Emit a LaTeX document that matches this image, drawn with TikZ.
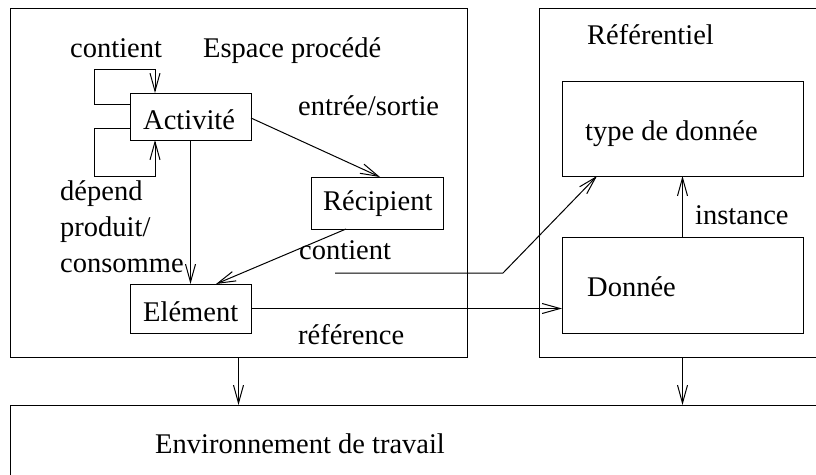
\documentclass[tikz,border=0pt]{standalone}
\usepackage{fontspec}
\setmainfont{Liberation Serif}
\usetikzlibrary{arrows.meta,calc}
\tikzset{
  box/.style={draw, rectangle, inner sep=0pt, outer sep=0pt, line width=1pt},
  lbl/.style={anchor=base west, inner sep=0pt, font=\fontsize{28.5}{34}\selectfont},
  arr/.style={line width=1pt, -{Straight Barb[length=18pt,width=10pt,line width=1pt]}},
  ln/.style={line width=1pt}
}
\begin{document}
\begin{tikzpicture}[x=1pt,y=-1pt]
\clip (0,0) rectangle (816,474);
\useasboundingbox (0,0) rectangle (816,474);
% big boxes
\node[box, minimum width=457pt, minimum height=349pt] (esp) at (238.5,182.5) {};
\node[box, minimum width=301pt, minimum height=349pt] (ref) at (689.5,182.5) {};
\node[box, minimum width=840pt, minimum height=85pt] (env) at (430,447.5) {};
% inner boxes
\node[box, minimum width=121pt, minimum height=47pt] (act) at (190.5,116.5) {};
\node[box, minimum width=132pt, minimum height=52pt] (rec) at (377,203) {};
\node[box, minimum width=121pt, minimum height=49pt] (elem) at (190.5,308.5) {};
\node[box, minimum width=241pt, minimum height=95pt] (type) at (682.5,128.5) {};
\node[box, minimum width=241pt, minimum height=96pt] (don) at (682.5,285) {};
% labels
\node[lbl] (lcont1) at (70,57) {contient};
\node[lbl] (lesp) at (203,57) {Espace procédé};
\node[lbl] (lact) at (143,129) {Activité};
\node[lbl] (lent) at (298,115) {entrée/sortie};
\node[lbl] (ldep) at (60,200) {dépend};
\node[lbl] (lprod) at (60,236) {produit/};
\node[lbl] (lcons) at (60,272) {consomme};
\node[lbl] (lrec) at (323,210) {Récipient};
\node[lbl] (lcont2) at (299,259) {contient};
\node[lbl] (lelem) at (143,321) {Elément};
\node[lbl] (lrefc) at (298,344) {référence};
\node[lbl] (lref) at (587,44) {Référentiel};
\node[lbl] (ltype) at (585,140) {type de donnée};
\node[lbl] (linst) at (695,224) {instance};
\node[lbl] (ldon) at (587,296) {Donnée};
\node[lbl] (lenv) at (155,453) {Environnement de travail};
% connectors
\draw[arr] ($(act.west)+(0,-12.5)$) -- ++(-36,0) -- ++(0,-35) -| ($(act.north west)+(25,0)$);
\draw[arr] ($(act.west)+(0,11.5)$) -- ++(-36,0) -- ++(0,48) -| ($(act.south west)+(25,0)$);
\draw[arr] (act.south) -- (elem.north);
\draw[arr] ($(act.east)+(0,1.5)$) -- ($(rec.north)+(3,0)$);
\draw[arr] ($(rec.south)+(-31,0)$) -- ($(elem.north)+(25.5,0)$);
\coordinate (c1) at (335,273);
\draw[arr] (c1) -- (503,273) -- ($(type.south west)+(35,0)$);
\draw[arr] (elem.east) -- (elem.east -| don.west);
\draw[arr] (don.north) -- (type.south);
\draw[arr] (esp.south) -- (esp.south |- env.north);
\draw[arr] (don.south |- ref.south) -- (don.south |- env.north);
\end{tikzpicture}
\end{document}
